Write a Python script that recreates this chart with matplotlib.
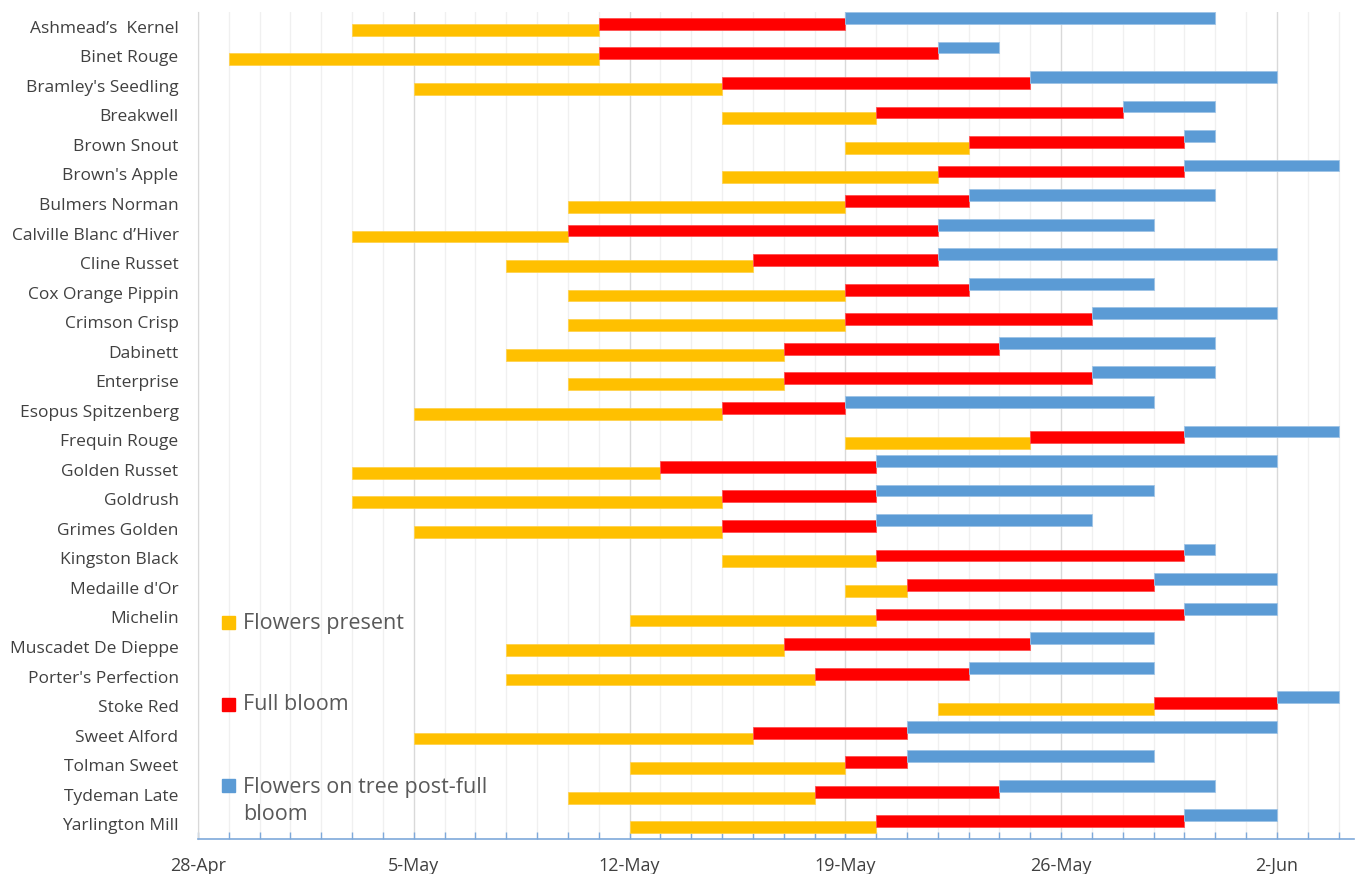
import matplotlib
matplotlib.use("Agg")
import matplotlib.pyplot as plt
import matplotlib.dates as mdates
from matplotlib.patches import Rectangle
import pandas as pd

plt.rcParams['font.family'] = ['Open Sans', 'DejaVu Sans']

varieties = [
    "Ashmead\u2019s  Kernel", "Binet Rouge", "Bramley's Seedling", "Breakwell",
    "Brown Snout", "Brown's Apple", "Bulmers Norman", "Calville Blanc d\u2019Hiver",
    "Cline Russet", "Cox Orange Pippin", "Crimson Crisp", "Dabinett", "Enterprise",
    "Esopus Spitzenberg", "Frequin Rouge", "Golden Russet", "Goldrush",
    "Grimes Golden", "Kingston Black", "Medaille d'Or", "Michelin",
    "Muscadet De Dieppe", "Porter's Perfection", "Stoke Red", "Sweet Alford",
    "Tolman Sweet", "Tydeman Late", "Yarlington Mill",
]

# phase boundary dates (year arbitrary)
flowers_start = ["05-03", "04-29", "05-05", "05-15", "05-19", "05-15", "05-10", "05-03",
                 "05-08", "05-10", "05-10", "05-08", "05-10", "05-05", "05-19", "05-03",
                 "05-03", "05-05", "05-15", "05-19", "05-12", "05-08", "05-08", "05-22",
                 "05-05", "05-12", "05-10", "05-12"]
bloom_start = ["05-11", "05-11", "05-15", "05-20", "05-23", "05-22", "05-19", "05-10",
               "05-16", "05-19", "05-19", "05-17", "05-17", "05-15", "05-25", "05-13",
               "05-15", "05-15", "05-20", "05-21", "05-20", "05-17", "05-18", "05-29",
               "05-16", "05-19", "05-18", "05-20"]
post_start = ["05-19", "05-22", "05-25", "05-28", "05-30", "05-30", "05-23", "05-22",
              "05-22", "05-23", "05-27", "05-24", "05-27", "05-19", "05-30", "05-20",
              "05-20", "05-20", "05-30", "05-29", "05-30", "05-25", "05-23", "06-02",
              "05-21", "05-21", "05-24", "05-30"]
post_end = ["05-31", "05-24", "06-02", "05-31", "05-31", "06-04", "05-31", "05-29",
            "06-02", "05-29", "06-02", "05-31", "05-31", "05-29", "06-04", "06-02",
            "05-29", "05-27", "05-31", "06-02", "06-02", "05-29", "05-29", "06-04",
            "06-02", "05-29", "05-31", "06-02"]

tick_dates = ["04-28", "05-05", "05-12", "05-19", "05-26", "06-02"]
tick_labels = ["28-Apr", "5-May", "12-May", "19-May", "26-May", "2-Jun"]

series_names = ["Flowers present", "Full bloom", "Flowers on tree post-full\nbloom"]
colors = ["#FFC000", "#FF0000", "#5B9BD5"]
edge_colors = ["#FFD24D", "#FF5050", "#9DC3E6"]


def to_num(lst):
    return mdates.date2num(pd.to_datetime(["2019-" + s for s in lst]))


fs = to_num(flowers_start)
bs = to_num(bloom_start)
ps = to_num(post_start)
pe = to_num(post_end)
tk = to_num(tick_dates)

fig = plt.figure(figsize=(13.59, 8.74), dpi=100)
W, H = 1359, 874
ax = fig.add_axes([198 / W, 1 - 839 / H, (1354 - 198) / W, (839 - 12) / H])

ypos = list(range(len(varieties)))
bar_h = 0.40
offsets = [0.10, -0.10, -0.30]  # yellow lowest, blue highest (inverted axis)
starts = [fs, bs, ps]
ends = [bs, ps, pe]
for k in range(3):
    ax.barh([y + offsets[k] for y in ypos], ends[k] - starts[k], left=starts[k],
            height=bar_h, color=colors[k], edgecolor=edge_colors[k], linewidth=0.6,
            zorder=3)

ax.set_ylim(len(varieties) - 0.5, -0.5)
ax.set_yticks(ypos)
ax.set_yticklabels(varieties, fontsize=12.5, color="#404040")
ax.tick_params(axis="y", length=0, pad=14)

ax.set_xlim(tk[0], tk[0] + 37.5)
ax.set_xticks(tk)
ax.set_xticklabels(tick_labels)
ax.xaxis.set_minor_locator(mdates.DayLocator())
ax.tick_params(axis="x", which="both", direction="in", length=5, width=1,
               color="#7EA9DA", labelsize=13, labelcolor="#404040", pad=13)

ax.xaxis.grid(True, which="minor", color="#F0F0F0", linewidth=1)
ax.xaxis.grid(True, which="major", color="#D9D9D9", linewidth=1)
ax.set_axisbelow(True)

for s in ["top", "right"]:
    ax.spines[s].set_visible(False)
ax.spines["left"].set_color("#D9D9D9")
ax.spines["bottom"].set_color("#7EA9DA")
ax.spines["bottom"].set_linewidth(1.2)

# legend drawn manually
leg_y = [622, 704, 785]
for k in range(3):
    fig.patches.append(Rectangle((222 / W, 1 - (leg_y[k] + 7) / H), 13 / W, 13 / H,
                                 transform=fig.transFigure, color=colors[k],
                                 figure=fig))
for k in range(2):
    fig.text(243 / W, 1 - (leg_y[k] + 1) / H, series_names[k], fontsize=15.5,
             color="#595959", va="center", ha="left")
fig.text(243 / W, 1 - 801 / H, series_names[2], fontsize=15.5, color="#595959",
         va="center", ha="left", linespacing=1.4)

fig.savefig("out.png", dpi=100)
